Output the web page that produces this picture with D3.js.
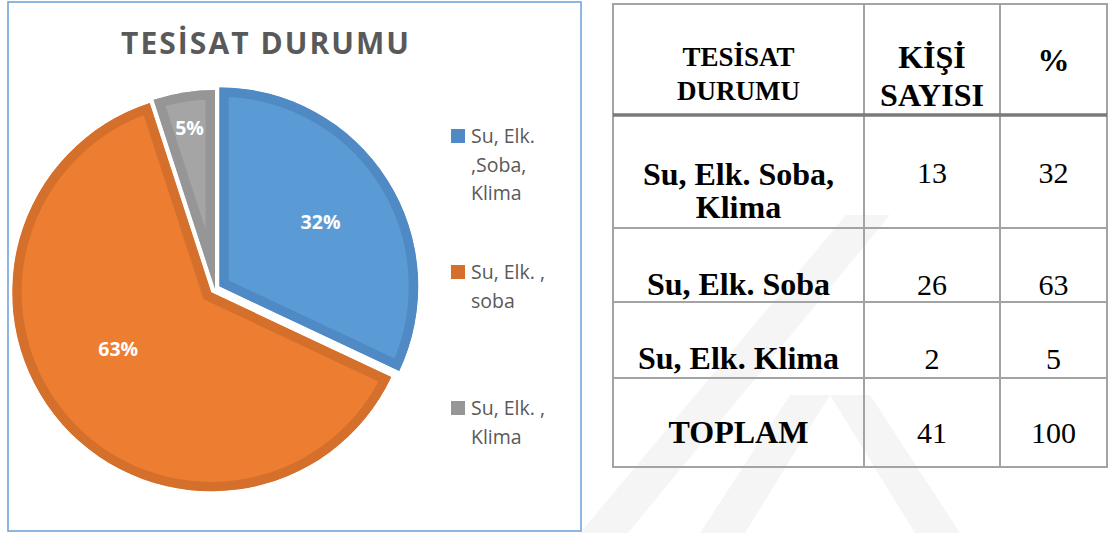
<!DOCTYPE html>
<html>
<head>
<meta charset="utf-8">
<script src="https://cdn.jsdelivr.net/npm/d3@7"></script>
<style>
  html, body { margin: 0; padding: 0; background: #fff; }
  svg { display: block; }
</style>
</head>
<body>
<div id="chart"></div>
<script>
// pie data
const categories = ["Su, Elk. ,Soba, Klima", "Su, Elk. , soba", "Su, Elk. , Klima"];
const legendLines = [["Su, Elk.", ",Soba,", "Klima"], ["Su, Elk. ,", "soba"], ["Su, Elk. ,", "Klima"]];
const percents = [32, 63, 5];

// table data
const tableHeader = [["TESİSAT", "DURUMU"], ["KİŞİ", "SAYISI"], ["%"]];
const rowLabels = [["Su, Elk. Soba,", "Klima"], ["Su, Elk. Soba"], ["Su, Elk. Klima"], ["TOPLAM"]];
const counts = [13, 26, 2, 41];
const rowPercents = [32, 63, 5, 100];

const W = 1109, H = 533;
const svg = d3.select("#chart").append("svg")
    .attr("width", W)
    .attr("height", H);

// faint background watermark
const wm = svg.append("g").attr("fill", "#f5f5f5");
[
  [[580, 533], [628, 533], [890, 215], [846, 215]],
  [[700, 533], [745, 533], [830, 395], [790, 395]],
  [[830, 395], [870, 395], [960, 533], [915, 533]]
].forEach(p => wm.append("polygon").attr("points", p.map(d => d.join(",")).join(" ")));

// ---------- pie chart ----------
const colors = ["#5B9BD5", "#ED7D31", "#A5A5A5"];
const borders = ["#4F8AC5", "#D5702C", "#969696"];

svg.append("rect")
    .attr("x", 8).attr("y", 2)
    .attr("width", 573).attr("height", 529)
    .attr("fill", "none")
    .attr("stroke", "#6A9FD6")
    .attr("stroke-width", 1.5);

svg.append("text")
    .attr("x", 265).attr("y", 54)
    .attr("text-anchor", "middle")
    .attr("font-family", "'Open Sans', sans-serif")
    .attr("font-weight", 700)
    .attr("font-size", 30)
    .attr("fill", "#595959")
    .attr("textLength", 288)
    .attr("lengthAdjust", "spacing")
    .text("TESİSAT DURUMU");

const cx = 215, cy = 289, r = 199;
const explode = [5, 5, 0];
const labelR = [120, 109, 163];
const labelShift = [0, 10, 0]; // degrees

const pie = d3.pie().sort(null).value(d => d);
const arcs = pie(percents);
const arc = d3.arc().innerRadius(0).outerRadius(r);

const defs = svg.append("defs");
const pieG = svg.append("g");

arcs.forEach((a, i) => {
  const mid = (a.startAngle + a.endAngle) / 2;
  const ox = cx + explode[i] * Math.sin(mid);
  const oy = cy - explode[i] * Math.cos(mid);
  defs.append("clipPath").attr("id", "clip" + i)
    .append("path").attr("d", arc(a));
  const g = pieG.append("g").attr("transform", `translate(${ox},${oy})`);
  g.append("path")
    .attr("d", arc(a))
    .attr("fill", colors[i])
    .attr("stroke", borders[i])
    .attr("stroke-width", 19)
    .attr("stroke-linejoin", "miter")
    .attr("clip-path", `url(#clip${i})`);
  const la = mid + labelShift[i] * Math.PI / 180;
  g.append("text")
    .attr("x", labelR[i] * Math.sin(la))
    .attr("y", -labelR[i] * Math.cos(la))
    .attr("dy", "0.36em")
    .attr("text-anchor", "middle")
    .attr("font-family", "'Open Sans', sans-serif")
    .attr("font-weight", 700)
    .attr("font-size", 19.5)
    .attr("fill", "#fff")
    .text(percents[i] + "%");
});

// legend
const legendTop = [129, 265, 401];
const legend = svg.append("g");
categories.forEach((c, i) => {
  legend.append("rect")
    .attr("x", 451).attr("y", legendTop[i])
    .attr("width", 14).attr("height", 14)
    .attr("fill", borders[i]);
  const t = legend.append("text")
    .attr("font-family", "'Open Sans', sans-serif")
    .attr("font-size", 19.5)
    .attr("fill", "#595959");
  legendLines[i].forEach((ln, j) => {
    t.append("tspan")
      .attr("x", 471)
      .attr("y", legendTop[i] + 14 + j * 28.7)
      .text(ln);
  });
});

// ---------- table ----------
const colX = [613, 864, 1000, 1107];
const rowY = [4, 115, 228, 302, 378, 467];
const headBase = [[66, 100], [68, 106], [71]];
const headSize = [27, 32, 32];
const labelBase = [[185, 218], [295], [369], [443]];
const numBase = [183, 295, 369, 443];

const tbl = svg.append("g")
    .attr("font-family", "'Liberation Serif', 'Times New Roman', serif")
    .attr("fill", "#000");

const lineColor = "#A3A3A3";
rowY.forEach((y, i) => {
  if (i === 1) return;
  tbl.append("line")
    .attr("x1", colX[0]).attr("x2", colX[3])
    .attr("y1", y).attr("y2", y)
    .attr("stroke", lineColor).attr("stroke-width", 2);
});
colX.forEach(x => {
  tbl.append("line")
    .attr("x1", x).attr("x2", x)
    .attr("y1", rowY[0] - 1).attr("y2", rowY[5] + 1)
    .attr("stroke", lineColor).attr("stroke-width", 2);
});
tbl.append("line")
    .attr("x1", colX[0]).attr("x2", colX[3])
    .attr("y1", rowY[1]).attr("y2", rowY[1])
    .attr("stroke", "#7A7A7A").attr("stroke-width", 3.5);

const colMid = i => (colX[i] + colX[i + 1]) / 2;

tableHeader.forEach((lines, i) => {
  lines.forEach((ln, j) => {
    tbl.append("text")
      .attr("x", colMid(i)).attr("y", headBase[i][j])
      .attr("text-anchor", "middle")
      .attr("font-weight", 700)
      .attr("font-size", headSize[i])
      .text(ln);
  });
});

rowLabels.forEach((lines, i) => {
  lines.forEach((ln, j) => {
    tbl.append("text")
      .attr("x", colMid(0)).attr("y", labelBase[i][j])
      .attr("text-anchor", "middle")
      .attr("font-weight", 700)
      .attr("font-size", 32)
      .text(ln);
  });
  tbl.append("text")
    .attr("x", colMid(1)).attr("y", numBase[i])
    .attr("text-anchor", "middle")
    .attr("font-size", 30)
    .text(counts[i]);
  tbl.append("text")
    .attr("x", colMid(2)).attr("y", numBase[i])
    .attr("text-anchor", "middle")
    .attr("font-size", 30)
    .text(rowPercents[i]);
});
</script>
</body>
</html>
